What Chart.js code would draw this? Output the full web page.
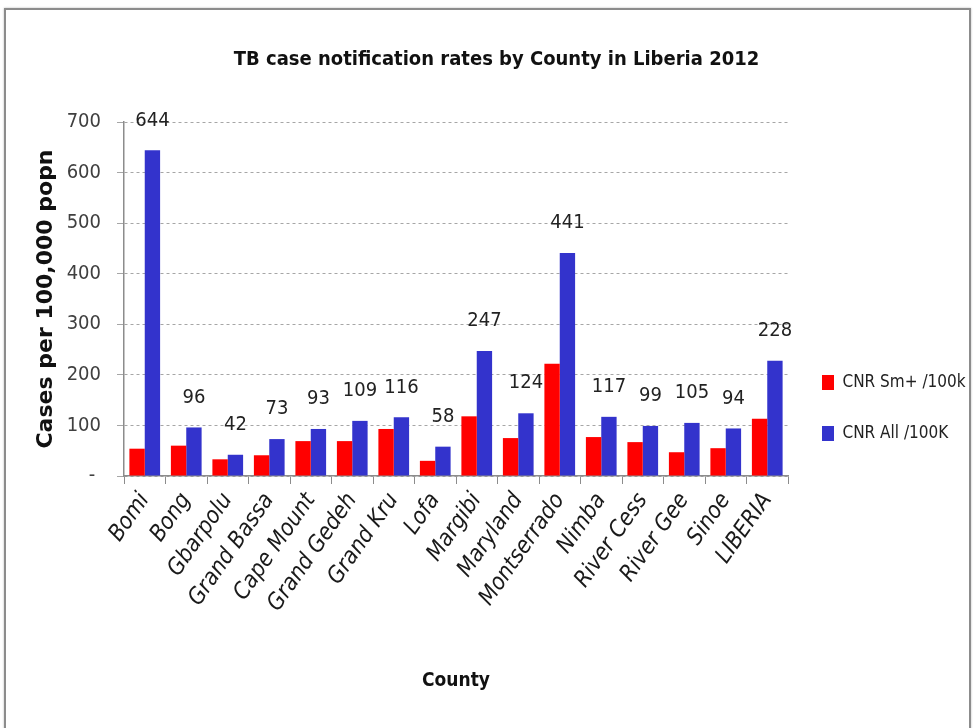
<!DOCTYPE html>
<html>
<head>
<meta charset="utf-8">
<title>TB case notification rates by County in Liberia 2012</title>
<script src="https://cdn.jsdelivr.net/npm/chart.js@4.4.1/dist/chart.umd.min.js"></script>
<style>
  html, body { margin: 0; padding: 0; background: #fff; }
  #wrap { position: relative; width: 973px; height: 728px; overflow: hidden; }
  #frame { position: absolute; left: 4px; top: 8px; width: 963px; height: 760px;
           border: 2px solid #8c8c8c; box-shadow: 0 0 2px #bbb; pointer-events: none; }
  canvas { display: block; }
</style>
</head>
<body>
<div id="wrap">
  <canvas id="chart" width="973" height="728"></canvas>
  <div id="frame"></div>
</div>
<script>
// TB case notification rates, Liberia 2012

const counties = ['Bomi', 'Bong', 'Gbarpolu', 'Grand Bassa', 'Cape Mount', 'Grand Gedeh', 'Grand Kru',
  'Lofa', 'Margibi', 'Maryland', 'Montserrado', 'Nimba', 'River Cess', 'River Gee', 'Sinoe', 'LIBERIA'];
const cnrSmPos = [54, 60, 33, 41, 69, 69, 93, 30, 118, 75, 222, 77, 67, 47, 55, 113];
const cnrAll = [644, 96, 42, 73, 93, 109, 116, 58, 247, 124, 441, 117, 99, 105, 94, 228];
const seriesNames = ['CNR Sm+ /100k', 'CNR All /100K'];
const yMax = 700;
const yStep = 100;

const NARROW = "'Liberation Sans Narrow', 'DejaVu Sans Condensed', sans-serif";

// value labels above the blue bars
const allLabels = {
  id: 'allLabels',
  afterDatasetsDraw(chart) {
    const ctx = chart.ctx;
    const meta = chart.getDatasetMeta(1);
    ctx.save();
    ctx.font = '20px ' + NARROW;
    ctx.fillStyle = '#222';
    ctx.textAlign = 'center';
    ctx.textBaseline = 'middle';
    meta.data.forEach((bar, i) => {
      ctx.fillText(String(cnrAll[i]), bar.x, bar.y - 30);
    });
    ctx.restore();
  }
};

new Chart(document.getElementById('chart'), {
  type: 'bar',
  data: {
    labels: counties,
    datasets: [
      { label: seriesNames[0], data: cnrSmPos, backgroundColor: '#ff0000',
        categoryPercentage: 0.74, barPercentage: 1.0 },
      { label: seriesNames[1], data: cnrAll, backgroundColor: '#3333cc',
        categoryPercentage: 0.74, barPercentage: 1.0 }
    ]
  },
  options: {
    responsive: false,
    animation: false,
    layout: { padding: { left: 20, right: 0, top: 0, bottom: 36 } },
    plugins: {
      title: {
        display: true,
        text: 'TB case notification rates by County in Liberia 2012',
        color: '#111',
        font: { family: NARROW, size: 20, weight: 'bold' },
        padding: { top: 48, bottom: 50 }
      },
      legend: {
        position: 'right',
        align: 'end',
        fullSize: false,
        maxWidth: 185,
        labels: {
          boxWidth: 12, boxHeight: 15, padding: 34,
          color: '#222',
          font: { family: NARROW, size: 17 }
        }
      },
      tooltip: { enabled: false }
    },
    scales: {
      x: {
        grid: { drawOnChartArea: false, drawTicks: true, tickLength: 8, tickColor: '#8c8c8c', offset: true },
        border: { color: '#8c8c8c', width: 1.5 },
        ticks: {
          autoSkip: false, minRotation: 55, maxRotation: 55, padding: 4,
          color: '#1a1a1a', font: { family: NARROW, size: 23, style: 'italic' }
        },
        title: {
          display: true, text: 'County', color: '#111',
          font: { family: NARROW, size: 19, weight: 'bold' },
          padding: { top: 0, bottom: 0 }
        },
        afterFit(scale) { scale.height = 728 - 36 - 476; }
      },
      y: {
        min: 0, max: yMax,
        grid: { color: '#a6a6a6', tickLength: 7, tickColor: '#a6a6a6' },
        border: { color: '#8c8c8c', width: 1.5, dash: [3, 3] },
        ticks: {
          stepSize: yStep, padding: 16, color: '#404040',
          font: { family: NARROW, size: 20 },
          callback: v => (v === 0 ? '- ' : v)
        },
        title: {
          display: true, text: 'Cases per 100,000 popn', color: '#111',
          font: { family: "'DejaVu Sans', Verdana, sans-serif", size: 22, weight: 'bold' },
          padding: { top: 13, bottom: 0 }
        },
        afterFit(scale) { scale.width = 104; }
      }
    }
  },
  plugins: [allLabels]
});
</script>
</body>
</html>
